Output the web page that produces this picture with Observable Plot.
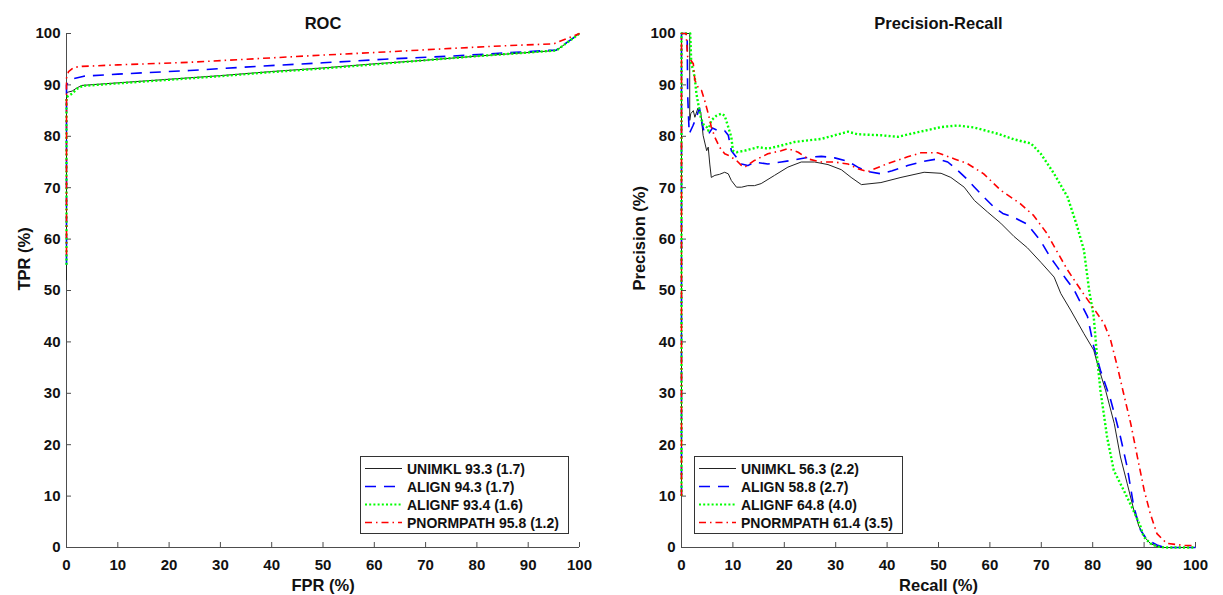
<!DOCTYPE html>
<html>
<head>
<meta charset="utf-8">
<script src="https://cdn.jsdelivr.net/npm/d3@7"></script>
<script src="https://cdn.jsdelivr.net/npm/@observablehq/plot@0.6"></script>
<style>
  html, body { margin: 0; padding: 0; background: #fff; }
  #wrap { position: relative; width: 1223px; height: 595px; background: #fff; font-family: "Liberation Sans", Arial, Helvetica, sans-serif; }
  #wrap svg text { font-weight: bold; }
  .panel { position: absolute; top: 0; }
  .legend { position: absolute; }
</style>
</head>
<body>
<div id="wrap"></div>
<script>
// ---------- data ----------
const ticks = [0, 10, 20, 30, 40, 50, 60, 70, 80, 90, 100];
const methods = ["UNIMKL", "ALIGN", "ALIGNF", "PNORMPATH"];
const colors = ["#222222", "#0000ff", "#00ff00", "#ff0000"];
const rocScores = ["93.3 (1.7)", "94.3 (1.7)", "93.4 (1.6)", "95.8 (1.2)"];
const prScores = ["56.3 (2.2)", "58.8 (2.7)", "64.8 (4.0)", "61.4 (3.5)"];

// ROC curves: [FPR, TPR]
const rocUnimkl = [[0,52],[0,88.5],[0.3,88.6],[1.1,88.8],[2,89.4],[3,89.9],[10,90.4],[20,91.1],[30,91.8],[40,92.6],[50,93.3],[60,94.1],[70,94.8],[80,95.6],[90,96.3],[95.5,96.7],[100,100]];
const rocAlign = [[0,55],[0,90],[0.3,90.4],[1.4,91.2],[3.4,91.7],[10,92.1],[24,92.8],[37,93.6],[50,94.3],[62,95],[75,95.6],[85,96.2],[95.5,96.8],[100,100]];
const rocAlignf = [[0,55],[0,87.6],[0.4,87.9],[1.1,88.3],[2,89.2],[3.1,89.8],[10,90.3],[20,91],[30,91.7],[40,92.5],[50,93.2],[60,94],[70,94.8],[80,95.6],[90,96.3],[95.5,96.7],[100,100]];
const rocPnorm = [[0,57],[0,91.3],[0.4,92.6],[1.4,93.4],[3,93.6],[10,93.9],[24,94.4],[37,95.1],[50,95.8],[62,96.4],[75,97.1],[85,97.6],[95,98],[100,100]];

// Precision-Recall curves: [Recall, Precision]
const prUnimkl = [[0,12],[0,100],[1.6,100],[1.6,83.1],[1.8,84.4],[2.3,85],[2.6,83.7],[3.2,85.5],[3.75,84.7],[4.2,80.2],[4.9,77.2],[5.2,77.9],[5.5,74.6],[5.8,72],[6.5,72.4],[7.4,72.6],[8.4,73],[9.1,72.7],[9.7,71.4],[10.7,70.1],[11.7,70.1],[12.9,70.4],[14.2,70.4],[15.5,70.8],[18.1,72.4],[20.7,74],[23.3,75],[25.9,75],[28.5,74.5],[31.1,73.5],[33,72],[35,70.6],[38.8,71],[42.7,72],[47.2,73],[50.5,72.8],[52.4,72],[55,70.1],[57,67.5],[59.5,65.3],[62.1,63.1],[64.7,60.5],[67.3,58.3],[69.9,55.5],[72.5,52.6],[73.8,49.4],[75.7,46.2],[78.3,41.6],[80.2,38.4],[80.9,35.8],[82.5,30.6],[84.2,24.1],[85.4,17.6],[86.7,12.5],[88,7.3],[89,4.1],[90,2.1],[91.2,0.8],[92.5,0.2],[94,0],[100,0]];
const prAlign = [[0,10],[0,100],[1.1,100],[1.2,88],[1.5,80.5],[2.2,82],[2.9,83.7],[3.5,85.5],[4,82.5],[4.5,80.5],[5.3,80.5],[6,81.6],[7.1,81.1],[8.4,81.1],[9.1,80.2],[9.7,77.2],[10.7,75.9],[11.7,74.6],[12.9,74.3],[14.2,75],[16.8,74.6],[19.4,75],[22,75.4],[24.6,75.9],[27.2,76.1],[29.8,75.8],[32.4,75.1],[34.3,74],[36,73.2],[38.8,72.7],[41,73.3],[44,74.3],[47,75.1],[49.8,75.6],[51.8,75],[53.7,73.4],[55.5,71.7],[57,70.1],[59,68],[60.8,66.2],[62.5,65],[64.7,64.2],[67.3,62.9],[69.9,59.6],[71.8,56.4],[73.1,54.6],[74.7,52.4],[76.4,50.1],[77.7,47.5],[79,44.9],[80.2,39.1],[81.5,34.5],[82.5,31.6],[83.5,28.7],[84.5,25],[85.4,21.5],[86.7,15.7],[87.4,11.5],[88,7.9],[89.3,3.4],[90.6,1.5],[92.5,0.5],[94,0],[100,0]];
const prAlignf = [[0,10],[0,100],[1.7,100],[1.9,94.1],[2.3,92.8],[2.6,91.2],[2.9,88.3],[3.2,86.6],[3.75,83.7],[4.2,82.4],[4.9,81.8],[5.2,81.1],[5.8,83.1],[6.8,84],[7.8,84.4],[8.4,84],[9.1,81.8],[9.7,79.8],[10,77.2],[10.7,76.9],[12.3,77.2],[14.9,77.9],[16.8,77.6],[19.4,78.2],[22,78.9],[24.6,79.2],[27.2,79.5],[29.8,80.2],[32.4,80.9],[34.3,80.4],[38.8,80.2],[42.1,79.9],[46,80.8],[50.5,81.8],[53.7,82.1],[57,81.7],[61.5,80.5],[64.7,79.4],[68,78.6],[69.9,76.6],[72.5,72.7],[75.1,68.2],[77,62.4],[78.3,57.8],[79.3,50.1],[80.2,44.9],[80.9,36.5],[81.5,30.6],[82.8,21.5],[84.1,15],[86,11.2],[87.6,7.9],[89.3,4.1],[89.9,2.1],[91.2,0.8],[92.5,0.2],[94,0],[100,0]];
const prPnorm = [[0,10],[0,100],[0.9,100],[1.2,95.5],[1.6,95.1],[2.3,94.1],[2.6,90.9],[3.2,89.6],[3.9,88.9],[4.5,87],[5.2,84.4],[5.8,81.8],[6.5,79.8],[7.4,77.9],[8.4,76.6],[9.1,76.3],[10.7,75.3],[11.7,74.3],[12.3,74],[14.2,75.3],[16.8,76.6],[19.4,77.2],[20.7,77.6],[22.7,76.9],[24.6,75.6],[27.2,75],[29.8,75],[32.4,74.6],[34.3,73.7],[36.2,73.1],[40.1,74.7],[44,76],[46.6,76.8],[49.8,76.8],[53.1,75.6],[55.6,74.7],[58.8,72.7],[62.1,69.5],[65.9,66.9],[68.5,64.6],[71.1,61.1],[73.1,57.5],[75.1,54],[77.7,50.1],[80.2,46.5],[82.2,43.6],[83.5,40.3],[84.8,35.2],[86,30],[87.4,24.1],[88.7,17.6],[90,11.2],[91.2,6.6],[92.5,2.7],[94.4,0.8],[97.7,0.4],[100,0.4]];

// ---------- styles ----------
const lineStyles = [
  {stroke: colors[0], strokeWidth: 1, strokeDasharray: null},
  {stroke: colors[1], strokeWidth: 1.6, strokeDasharray: "11,8"},
  {stroke: colors[2], strokeWidth: 2.4, strokeDasharray: "2,2.2"},
  {stroke: colors[3], strokeWidth: 1.6, strokeDasharray: "7,4,1.5,4"}
];
const axisColor = "#4d4d4d";

function panel({series, title, xLabel, yLabel, width, marginLeft, marginRight}) {
  const height = 595, marginTop = 33, marginBottom = 48;
  const innerW = width - marginLeft - marginRight;
  const innerH = height - marginTop - marginBottom;
  return Plot.plot({
    width, height, marginLeft, marginRight, marginTop, marginBottom,
    x: {domain: [0, 100]},
    y: {domain: [0, 100]},
    style: {fontFamily: '"Liberation Sans", Arial, Helvetica, sans-serif', background: "white", color: "#111", overflow: "visible"},
    marks: [
      Plot.axisX({ticks, tickSize: 0, tickPadding: 11.5, fontSize: 15, label: null, fill: "#111"}),
      Plot.axisY({ticks, tickSize: 0, tickPadding: 6, fontSize: 15, label: null, fill: "#111"}),
      Plot.ruleY([0], {stroke: axisColor}),
      Plot.ruleX([0], {stroke: axisColor}),
      Plot.ruleX(ticks, {x: d => d, stroke: axisColor, insetTop: innerH - 5}),
      Plot.ruleY(ticks, {y: d => d, stroke: axisColor, insetRight: innerW - 5}),
      ...series.map((s, i) => Plot.line(s, {x: d => d[0], y: d => d[1], ...lineStyles[i], strokeLinecap: "butt", strokeLinejoin: "round"})),
      Plot.text([title], {text: d => d, frameAnchor: "top", dy: -5, lineAnchor: "bottom", fontSize: 16.5, fill: "#111"}),
      Plot.text([xLabel], {text: d => d, frameAnchor: "bottom", dy: 43, lineAnchor: "bottom", fontSize: 16.5, fill: "#111"}),
      Plot.text([yLabel], {text: d => d, frameAnchor: "left", dx: -37, rotate: -90, lineAnchor: "bottom", fontSize: 16.5, fill: "#111"})
    ]
  });
}

function legend(scores, left, top) {
  const w = 209, h = 78;
  const svg = d3.create("svg").attr("class", "legend").attr("width", w).attr("height", h)
    .style("left", left + "px").style("top", top + "px");
  svg.append("rect").attr("x", 0.5).attr("y", 0.5).attr("width", w - 1).attr("height", h - 1)
    .attr("fill", "white").attr("stroke", "#333");
  methods.forEach((m, i) => {
    const cy = 12.5 + i * 18;
    const st = lineStyles[i];
    svg.append("line").attr("x1", 5).attr("x2", 42).attr("y1", cy).attr("y2", cy)
      .attr("stroke", st.stroke).attr("stroke-width", Math.min(st.strokeWidth, 2))
      .attr("stroke-dasharray", st.strokeDasharray);
    svg.append("text").attr("x", 47).attr("y", cy).attr("dy", "0.36em")
      .attr("font-size", 14).attr("font-weight", "bold").attr("fill", "#111")
      .attr("font-family", '"Liberation Sans", Arial, sans-serif')
      .text(`${m} ${scores[i]}`);
  });
  return svg.node();
}

const wrap = document.getElementById("wrap");
const roc = panel({series: [rocUnimkl, rocAlign, rocAlignf, rocPnorm], title: "ROC", xLabel: "FPR (%)", yLabel: "TPR (%)", width: 612, marginLeft: 66, marginRight: 33});
roc.classList.add("panel"); roc.style.left = "0px";
const pr = panel({series: [prUnimkl, prAlign, prAlignf, prPnorm], title: "Precision-Recall", xLabel: "Recall (%)", yLabel: "Precision (%)", width: 611, marginLeft: 69, marginRight: 28});
pr.classList.add("panel"); pr.style.left = "612px";
wrap.appendChild(roc);
wrap.appendChild(pr);
wrap.appendChild(legend(rocScores, 360, 456));
wrap.appendChild(legend(prScores, 694, 456));
</script>
</body>
</html>
